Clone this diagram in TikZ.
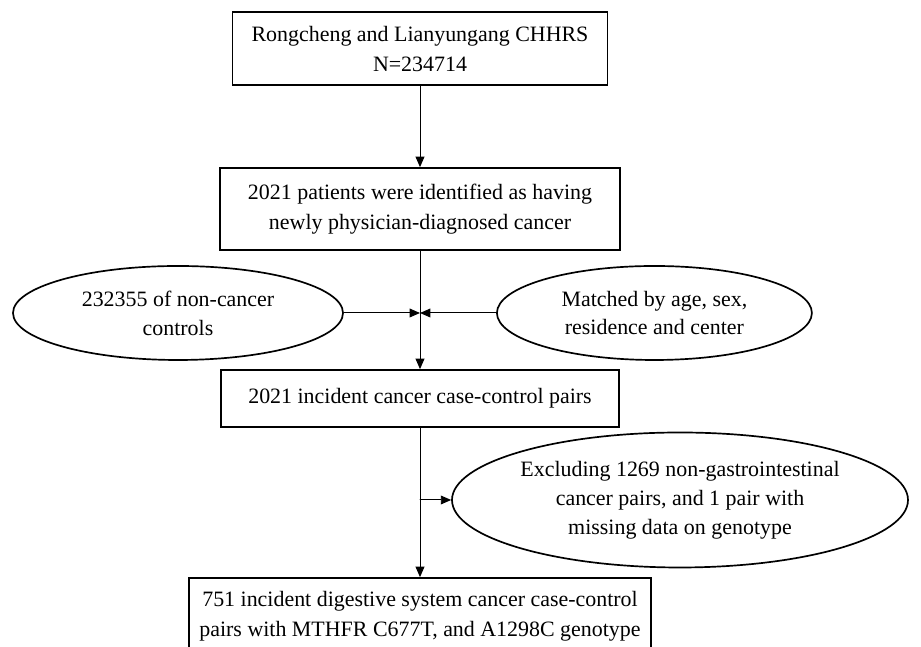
\documentclass[tikz,border=0pt]{standalone}
\usepackage{fontspec}
\setmainfont{Liberation Serif}
\usepackage{tikz}
\usetikzlibrary{calc, positioning, arrows.meta, shapes.geometric}

\providecommand{\FigScale}{1}

\begin{document}
\begin{tikzpicture}[scale=\FigScale, line cap=round,
	box/.style={draw, line width=1.2pt, rectangle, align=center, inner sep=0pt,
		font=\fontsize{15.6}{21.4}\selectfont},
	oval/.style={draw, line width=1.2pt, ellipse, align=center, inner sep=0pt,
		font=\fontsize{15.6}{20.6}\selectfont},
	link/.style={line width=0.7pt, -{Triangle[length=2.6mm, width=2.2mm]}}]

\useasboundingbox (0,0) rectangle (23.025,16.175);

% boxes down the middle
\node[box, minimum width=9.375cm, minimum height=1.825cm] (cohort) at (10.5,14.96)
	{Rongcheng and Lianyungang CHHRS\\N=234714};
\node[box, minimum width=10cm, minimum height=2.05cm] (cases) at (10.5,10.95)
	{2021 patients were identified as having\\newly physician-diagnosed cancer};
\node[box, minimum width=9.95cm, minimum height=1.425cm] (pairs) at (10.5,6.2125)
	{2021 incident cancer case-control pairs};
\node[box, minimum width=11.55cm, minimum height=1.925cm] (final) at (10.5,0.7625)
	{751 incident digestive system cancer case-control\\pairs with MTHFR C677T, and A1298C genotype};

% side ovals
\node[oval, minimum width=8.25cm, minimum height=2.35cm] (ctrl) at (4.45,8.35)
	{232355 of non-cancer\\controls};
\node[oval, minimum width=7.875cm, minimum height=2.35cm] (match) at (16.36,8.35)
	{Matched by age, sex,\\residence and center};
\node[oval, minimum width=11.4cm, minimum height=3.375cm] (excl) at (17.0,3.675)
	{Excluding 1269 non-gastrointestinal\\cancer pairs, and 1 pair with\\missing data on genotype};

\coordinate (J) at (10.5,8.35);
\coordinate (K) at (10.5,3.675);

\draw[link] (cohort) -- (cases);
\draw[link] (cases) -- (pairs);
\draw[link] (ctrl) -- (J);
\draw[link] (match) -- (J);
\draw[link] (pairs) -- (final);
\draw[link] (K) -- (excl);

\end{tikzpicture}
\end{document}
